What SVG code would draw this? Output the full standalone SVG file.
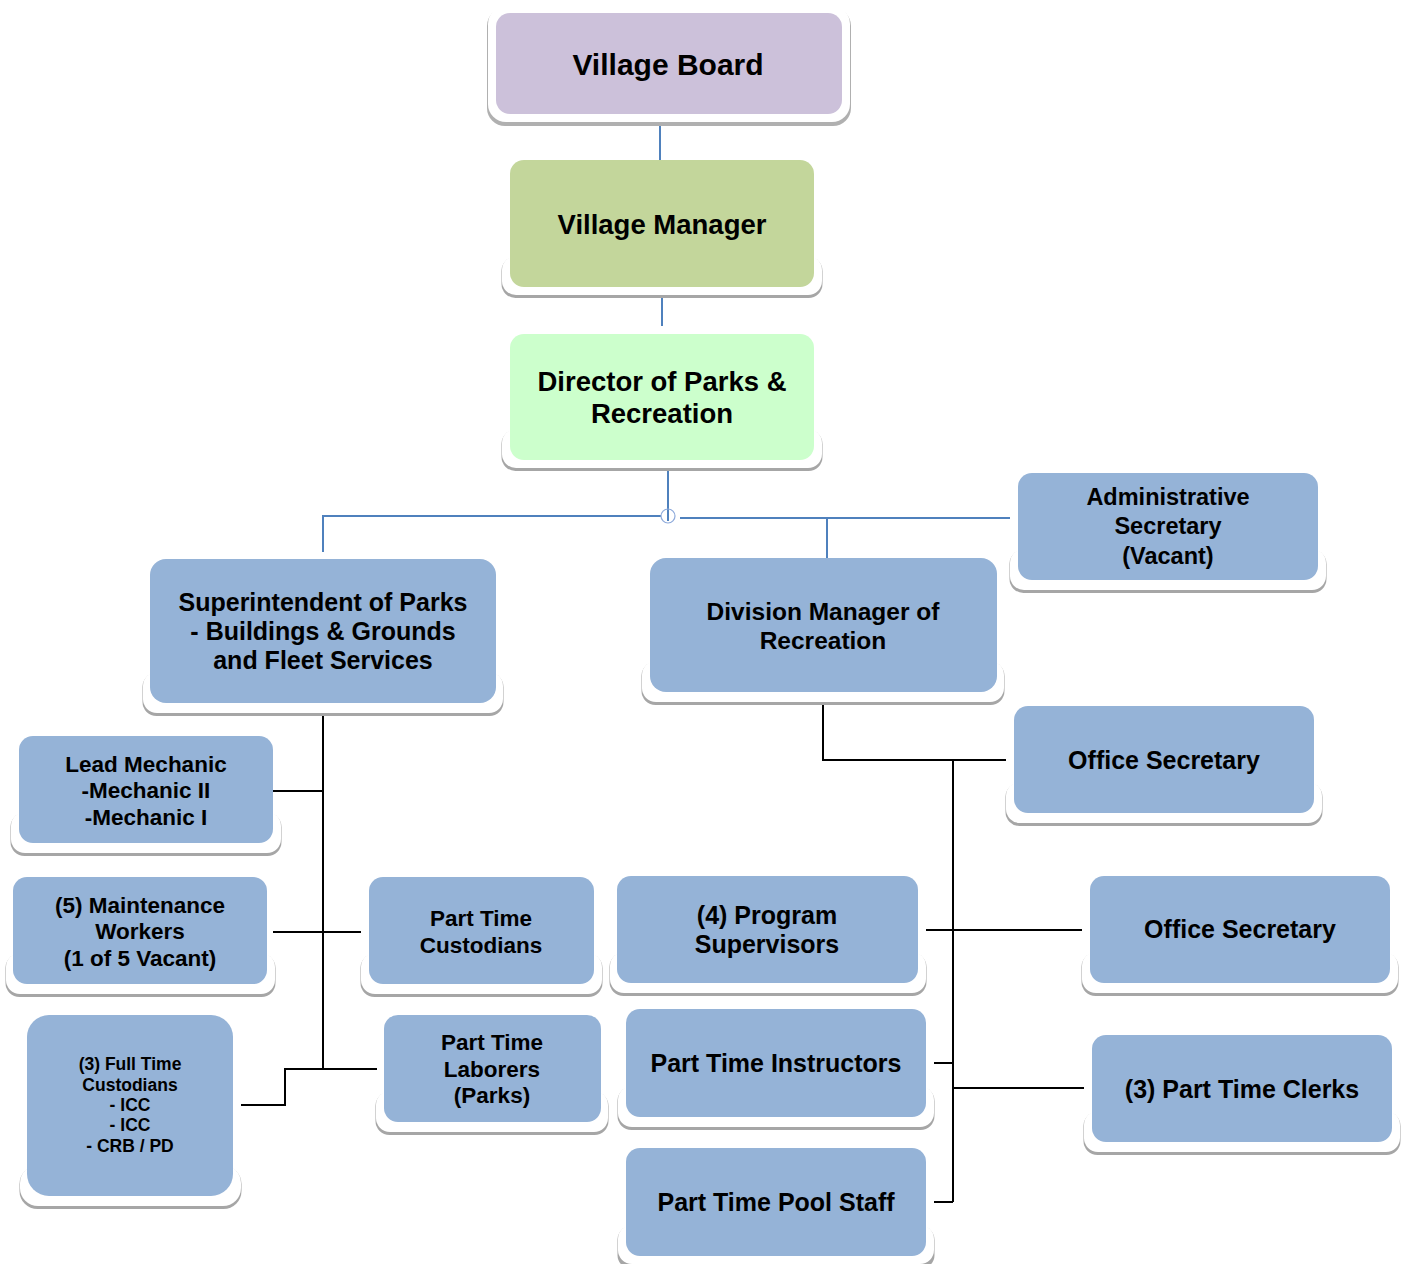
<svg xmlns="http://www.w3.org/2000/svg" width="1404" height="1264" viewBox="0 0 1404 1264">
<defs>
<style>
text{font-family:"Liberation Sans",Arial,sans-serif;font-weight:bold;fill:#000;text-anchor:middle}
.sh{fill:#a6a6a6}
.wb{fill:#fff}
.blue{fill:#95b3d7}
.cb{stroke:#4f81bd;stroke-width:2;fill:none}
.ck{stroke:#000;stroke-width:2;fill:none}
.f25{font-size:25px}
.f23{font-size:23.5px}
.f22{font-size:22.5px}
</style>
</defs>
<rect width="1404" height="1264" fill="#fff"/>
<g id="connectors">
<path class="cb" d="M660 122V165M662 293V326M668 468V521M661 516H323V552M680 518H1010M827 518V567"/>
<circle cx="668" cy="516" r="7" fill="none" stroke="#8eaadb" stroke-width="1.2"/>
<path class="ck" d="M323 711V1069M273 791H323M273 932H361M323 1069H377M241 1105H285V1069H323"/>
<path class="ck" d="M823 701V760H1006M953 760V1202M926 930H1082M934 1063H953M953 1088H1084M934 1202H953"/>
</g>
<g id="village-board">
<rect x="487" y="8" width="364" height="118" rx="18" fill="#b0b0b0"/>
<rect x="488" y="6" width="362" height="116" rx="18" class="wb"/>
<rect x="496" y="13" width="346" height="101" rx="14" fill="#ccc1da"/>
<text x="668" y="75" style="font-size:30px">Village Board</text>
</g>
<g id="village-manager">
<rect x="501.5" y="257" width="321" height="41" rx="14" class="sh"/>
<rect x="502" y="256" width="320" height="39" rx="14" class="wb"/>
<rect x="510" y="160" width="304" height="127" rx="14" fill="#c3d69b"/>
<text x="662" y="234" style="font-size:27.5px">Village Manager</text>
</g>
<g id="director">
<rect x="501.5" y="430" width="321" height="41" rx="14" class="sh"/>
<rect x="502" y="429" width="320" height="39" rx="14" class="wb"/>
<rect x="510" y="334" width="304" height="126" rx="14" fill="#ccffcc"/>
<text x="662" y="391" style="font-size:27.5px">Director of Parks &amp;</text>
<text x="662" y="423" style="font-size:27.5px">Recreation</text>
</g>
<g id="admin-secretary">
<rect x="1009.5" y="550" width="317" height="43" rx="14" class="sh"/>
<rect x="1010" y="549" width="316" height="41" rx="14" class="wb"/>
<rect x="1018" y="473" width="300" height="107" rx="14" class="blue"/>
<text x="1168" y="505" class="f23">Administrative</text>
<text x="1168" y="534" class="f23">Secretary</text>
<text x="1168" y="564" class="f23">(Vacant)</text>
</g>
<g id="superintendent">
<rect x="142.5" y="673" width="361" height="43" rx="14" class="sh"/>
<rect x="143" y="672" width="360" height="41" rx="14" class="wb"/>
<rect x="150" y="559" width="346" height="144" rx="16" class="blue"/>
<text x="323" y="611" class="f25">Superintendent of Parks</text>
<text x="323" y="640" class="f25">- Buildings &amp; Grounds</text>
<text x="323" y="669" class="f25">and Fleet Services</text>
</g>
<g id="division-manager">
<rect x="641.5" y="662" width="363" height="43" rx="14" class="sh"/>
<rect x="642" y="661" width="362" height="41" rx="14" class="wb"/>
<rect x="650" y="558" width="347" height="134" rx="16" class="blue"/>
<text x="823" y="620" style="font-size:24.5px">Division Manager of</text>
<text x="823" y="649" style="font-size:24.5px">Recreation</text>
</g>
<g id="office-secretary-1">
<rect x="1005.5" y="783" width="317" height="43" rx="14" class="sh"/>
<rect x="1006" y="782" width="316" height="41" rx="14" class="wb"/>
<rect x="1014" y="706" width="300" height="107" rx="14" class="blue"/>
<text x="1164" y="769" class="f25">Office Secretary</text>
</g>
<g id="lead-mechanic">
<rect x="10.5" y="813" width="271" height="43" rx="14" class="sh"/>
<rect x="11" y="812" width="270" height="41" rx="14" class="wb"/>
<rect x="19" y="736" width="254" height="107" rx="14" class="blue"/>
<text x="146" y="772" class="f22">Lead Mechanic</text>
<text x="146" y="798" class="f22">-Mechanic II</text>
<text x="146" y="825" class="f22">-Mechanic I</text>
</g>
<g id="maintenance-workers">
<rect x="5.5" y="954" width="270" height="43" rx="14" class="sh"/>
<rect x="6" y="953" width="269" height="41" rx="14" class="wb"/>
<rect x="13" y="877" width="254" height="107" rx="14" class="blue"/>
<text x="140" y="913" class="f22">(5) Maintenance</text>
<text x="140" y="939" class="f22">Workers</text>
<text x="140" y="966" class="f22">(1 of 5 Vacant)</text>
</g>
<g id="part-time-custodians">
<rect x="360.5" y="954" width="242" height="43" rx="14" class="sh"/>
<rect x="361" y="953" width="241" height="41" rx="14" class="wb"/>
<rect x="369" y="877" width="225" height="107" rx="14" class="blue"/>
<text x="481" y="926" class="f22">Part Time</text>
<text x="481" y="953" class="f22">Custodians</text>
</g>
<g id="program-supervisors">
<rect x="609.5" y="953" width="317" height="43" rx="14" class="sh"/>
<rect x="610" y="952" width="316" height="41" rx="14" class="wb"/>
<rect x="617" y="876" width="301" height="107" rx="14" class="blue"/>
<text x="767" y="924" class="f25">(4) Program</text>
<text x="767" y="953" class="f25">Supervisors</text>
</g>
<g id="office-secretary-2">
<rect x="1081.5" y="953" width="317" height="43" rx="14" class="sh"/>
<rect x="1082" y="952" width="316" height="41" rx="14" class="wb"/>
<rect x="1090" y="876" width="300" height="107" rx="14" class="blue"/>
<text x="1240" y="938" class="f25">Office Secretary</text>
</g>
<g id="full-time-custodians">
<rect x="19.5" y="1166" width="222" height="43" rx="18" class="sh"/>
<rect x="20" y="1165" width="221" height="41" rx="18" class="wb"/>
<rect x="27" y="1015" width="206" height="181" rx="22" class="blue"/>
<text x="130" y="1070" style="font-size:17.5px">(3) Full Time</text>
<text x="130" y="1091" style="font-size:17.5px">Custodians</text>
<text x="130" y="1111" style="font-size:17.5px">- ICC</text>
<text x="130" y="1131" style="font-size:17.5px">- ICC</text>
<text x="130" y="1152" style="font-size:17.5px">- CRB / PD</text>
</g>
<g id="part-time-laborers">
<rect x="375.5" y="1092" width="233" height="43" rx="14" class="sh"/>
<rect x="376" y="1091" width="232" height="41" rx="14" class="wb"/>
<rect x="384" y="1015" width="217" height="107" rx="14" class="blue"/>
<text x="492" y="1050" class="f22">Part Time</text>
<text x="492" y="1077" class="f22">Laborers</text>
<text x="492" y="1103" class="f22">(Parks)</text>
</g>
<g id="part-time-instructors">
<rect x="617.5" y="1087" width="317" height="43" rx="14" class="sh"/>
<rect x="618" y="1086" width="316" height="41" rx="14" class="wb"/>
<rect x="626" y="1009" width="300" height="108" rx="14" class="blue"/>
<text x="776" y="1072" class="f25">Part Time Instructors</text>
</g>
<g id="part-time-clerks">
<rect x="1083.5" y="1112" width="317" height="43" rx="14" class="sh"/>
<rect x="1084" y="1111" width="316" height="41" rx="14" class="wb"/>
<rect x="1092" y="1035" width="300" height="107" rx="14" class="blue"/>
<text x="1242" y="1098" class="f25">(3) Part Time Clerks</text>
</g>
<g id="part-time-pool-staff">
<rect x="617.5" y="1226" width="317" height="43" rx="14" class="sh"/>
<rect x="618" y="1225" width="316" height="39" rx="14" class="wb"/>
<rect x="626" y="1148" width="300" height="108" rx="14" class="blue"/>
<text x="776" y="1211" class="f25">Part Time Pool Staff</text>
</g>
</svg>
